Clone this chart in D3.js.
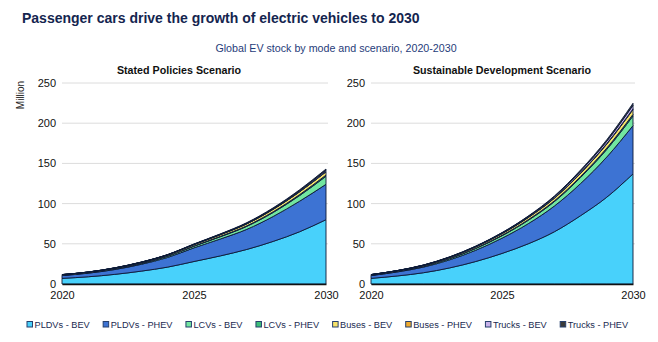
<!DOCTYPE html>
<html>
<head>
<meta charset="utf-8">
<script src="https://cdn.jsdelivr.net/npm/d3@7"></script>
<style>
  body { margin: 0; background: #fff; }
  svg { font-family: "Liberation Sans", Arial, sans-serif; }
</style>
</head>
<body>
<svg id="chart" width="658" height="342"></svg>
<script>
const years = [2020, 2021, 2022, 2023, 2024, 2025, 2026, 2027, 2028, 2029, 2030];
const seriesNames = ['PLDVs - BEV', 'PLDVs - PHEV', 'LCVs - BEV', 'LCVs - PHEV',
  'Buses - BEV', 'Buses - PHEV', 'Trucks - BEV', 'Trucks - PHEV'];
const colors = ['#48d1fb', '#3d73d3', '#72e6a0', '#3cbf78', '#f7e36a', '#f0ab2e', '#c8b2ea', '#3a3a3a'];

// Stated Policies Scenario, million vehicles
const stepsPldvBev = [7, 9, 12, 16, 21, 28, 35, 43, 53, 65, 80];
const stepsPldvPhev = [3.5, 4.5, 6, 8.5, 12, 17, 21, 25, 31, 38, 44];
const stepsLcvBev = [0.4, 0.5, 0.8, 1.1, 1.5, 2, 2.8, 3.7, 5, 7, 10];
const stepsLcvPhev = [0.1, 0.1, 0.15, 0.2, 0.3, 0.4, 0.5, 0.7, 0.9, 1.2, 1.5];
const stepsBusBev = [0.6, 0.7, 0.9, 1.1, 1.3, 1.6, 2, 2.4, 2.9, 3.4, 4];
const stepsBusPhev = [0.05, 0.05, 0.1, 0.1, 0.15, 0.2, 0.25, 0.3, 0.35, 0.4, 0.5];
const stepsTruckBev = [0.05, 0.05, 0.1, 0.15, 0.2, 0.3, 0.4, 0.6, 0.8, 1.1, 1.5];
const stepsTruckPhev = [0.05, 0.05, 0.1, 0.15, 0.2, 0.3, 0.4, 0.6, 0.8, 1.1, 1.5];

// Sustainable Development Scenario, million vehicles
const sdsPldvBev = [7, 10, 14, 20, 28, 38, 50, 65, 85, 108, 137];
const sdsPldvPhev = [3.5, 5, 7, 10, 14, 19, 25, 32, 40, 50, 60];
const sdsLcvBev = [0.4, 0.6, 1, 1.5, 2.2, 3, 4.2, 5.5, 7.5, 9.5, 12];
const sdsLcvPhev = [0.1, 0.1, 0.2, 0.3, 0.4, 0.6, 0.8, 1, 1.3, 1.6, 2];
const sdsBusBev = [0.6, 0.8, 1, 1.3, 1.6, 2, 2.6, 3.2, 4, 5, 6];
const sdsBusPhev = [0.05, 0.05, 0.1, 0.15, 0.2, 0.25, 0.3, 0.4, 0.5, 0.6, 0.8];
const sdsTruckBev = [0.05, 0.1, 0.2, 0.3, 0.5, 0.7, 1, 1.5, 2.2, 3, 4.5];
const sdsTruckPhev = [0.05, 0.05, 0.1, 0.2, 0.3, 0.4, 0.6, 0.9, 1.3, 1.8, 2.5];

const yTicks = [0, 50, 100, 150, 200, 250];
const xTicks = [2020, 2025, 2030];

const panels = [
  {title: 'Stated Policies Scenario', x0: 62, x1: 326, titleX: 179,
   series: [stepsPldvBev, stepsPldvPhev, stepsLcvBev, stepsLcvPhev, stepsBusBev, stepsBusPhev, stepsTruckBev, stepsTruckPhev]},
  {title: 'Sustainable Development Scenario', x0: 371, x1: 633, titleX: 502,
   series: [sdsPldvBev, sdsPldvPhev, sdsLcvBev, sdsLcvPhev, sdsBusBev, sdsBusPhev, sdsTruckBev, sdsTruckPhev]}
];

const svg = d3.select('#chart');
const plotTop = 83, plotBottom = 284;

svg.append('text')
  .attr('x', 22).attr('y', 23)
  .attr('font-size', 14).attr('font-weight', 'bold')
  .attr('fill', '#14254f')
  .text('Passenger cars drive the growth of electric vehicles to 2030');

svg.append('text')
  .attr('x', 336).attr('y', 52)
  .attr('text-anchor', 'middle')
  .attr('font-size', 10.7).attr('fill', '#1f3c7a')
  .text('Global EV stock by mode and scenario, 2020-2030');

svg.append('text')
  .attr('transform', 'translate(24, 95) rotate(-90)')
  .attr('text-anchor', 'middle')
  .attr('font-size', 10).attr('fill', '#222')
  .text('Million');

const y = d3.scaleLinear().domain([0, 250]).range([plotBottom, plotTop]);

for (const p of panels) {
  const x = d3.scaleLinear().domain([2020, 2030]).range([p.x0, p.x1]);
  const g = svg.append('g');

  g.append('text')
    .attr('x', p.titleX).attr('y', 74)
    .attr('text-anchor', 'middle')
    .attr('font-size', 10.7).attr('font-weight', 'bold').attr('fill', '#111')
    .text(p.title);

  // gridlines
  g.selectAll('.grid')
    .data(yTicks.filter(d => d > 0))
    .enter().append('line')
      .attr('x1', p.x0).attr('x2', p.x1 + 2)
      .attr('y1', d => y(d)).attr('y2', d => y(d))
      .attr('stroke', '#dcdcdc').attr('stroke-width', 1);

  const yAxis = g.append('g')
    .attr('transform', `translate(${p.x0 - 6}, 0)`)
    .call(d3.axisLeft(y).tickValues(yTicks).tickSize(0).tickPadding(0));
  yAxis.select('.domain').remove();
  yAxis.selectAll('text').attr('font-size', 11).attr('fill', '#111')
    .attr('font-family', '"Liberation Sans", Arial, sans-serif');

  const table = years.map((yr, i) => {
    const row = {year: yr};
    seriesNames.forEach((n, k) => { row[n] = p.series[k][i]; });
    return row;
  });
  const stacked = d3.stack().keys(seriesNames)(table);

  const area = d3.area()
    .x(d => x(d.data.year))
    .y0(d => y(d[0]))
    .y1(d => y(d[1]))
    .curve(d3.curveMonotoneX);

  g.selectAll('.layer')
    .data(stacked)
    .enter().append('path')
      .attr('class', 'layer')
      .attr('d', area)
      .attr('fill', (d, i) => colors[i])
      .attr('stroke', '#0b1a38')
      .attr('stroke-width', 0.9)
      .attr('stroke-linejoin', 'round');

  const xAxis = g.append('g')
    .attr('transform', `translate(0, ${plotBottom})`)
    .call(d3.axisBottom(x).tickValues(xTicks).tickFormat(d3.format('d')).tickSize(0).tickPadding(7));
  xAxis.select('.domain').attr('stroke', '#111').attr('stroke-width', 1.5);
  xAxis.selectAll('text').attr('font-size', 11).attr('fill', '#111')
    .attr('font-family', '"Liberation Sans", Arial, sans-serif');
}

// legend
const legend = svg.append('g').attr('transform', 'translate(0, 325)');
let lx = 27;
seriesNames.forEach((n, i) => {
  const item = legend.append('g').attr('transform', `translate(${lx}, 0)`);
  item.append('rect')
    .attr('x', 0).attr('y', -3.5).attr('width', 5.5).attr('height', 5.5)
    .attr('fill', colors[i]).attr('stroke', '#27406e').attr('stroke-width', 1);
  const t = item.append('text')
    .attr('x', 7.5).attr('y', 3)
    .attr('font-size', 9.2).attr('fill', '#1a2a50')
    .text(n);
  lx += 7.5 + t.node().getComputedTextLength() + 13.5;
});
</script>
</body>
</html>
